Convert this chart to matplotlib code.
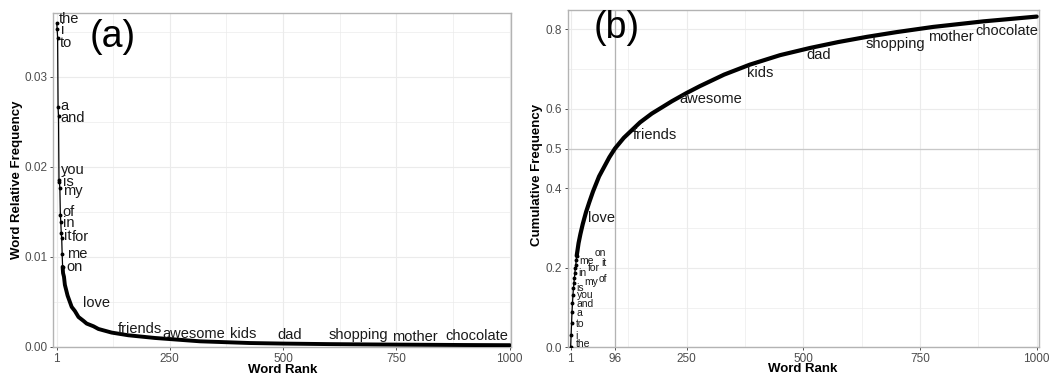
import matplotlib
matplotlib.use("Agg")
import matplotlib.pyplot as plt
from matplotlib.ticker import FixedLocator

plt.rcParams['font.family'] = ['Liberation Sans', 'DejaVu Sans']

# --- data ---
top_words = ["the", "i", "to", "a", "and", "you", "is", "my", "of", "in", "it", "for", "me", "on"]
top_ranks = list(range(1, 15))

# (a) relative frequency
top_freq = [0.0360, 0.0353, 0.0343, 0.0266, 0.0256, 0.0185, 0.0183, 0.0176,
            0.0147, 0.0139, 0.0126, 0.0121, 0.0103, 0.0089]
tail_ranks_a = [15, 17, 19, 25, 34, 41, 49, 60, 67, 82, 93, 122, 159, 218,
                317, 427, 500, 600, 700, 800, 900, 1000]
tail_freq = [0.0082, 0.0078, 0.0069, 0.0057, 0.00445, 0.0040, 0.00333, 0.0029,
             0.0026, 0.0023, 0.0020, 0.0016, 0.0013, 0.0010, 0.00063, 0.00044,
             0.00038, 0.00032, 0.00028, 0.00025, 0.00022, 0.0002]

# (b) cumulative frequency
top_cum = [0.0, 0.031, 0.060, 0.090, 0.111, 0.132, 0.148, 0.161,
           0.174, 0.186, 0.199, 0.207, 0.220, 0.230]
tail_ranks_b = [18, 22, 27, 34, 41, 49, 62, 84, 96, 115, 132, 150, 175, 200, 218,
                250, 278, 330, 385, 450, 514, 575, 636, 700, 778, 886, 1000]
tail_cum = [0.262, 0.285, 0.310, 0.340, 0.365, 0.392, 0.430, 0.478, 0.500, 0.527,
            0.546, 0.566, 0.588, 0.606, 0.619, 0.640, 0.657, 0.686, 0.711, 0.735,
            0.753, 0.768, 0.781, 0.793, 0.806, 0.820, 0.832]

label_words = top_words + ["love", "friends", "awesome", "kids", "dad",
                           "shopping", "mother", "chocolate"]
# text anchor positions (left edge, vertical centre) in data units
label_x_a = [4.5, 9.8, 6.7, 8.3, 9.8, 10.5, 15.6, 14.2, 14.2, 14.2, 17.8, 34, 23, 23,
             59.7, 135.5, 233.9, 383, 487, 601, 740, 859]
label_y_a = [0.03641, 0.03519, 0.03371, 0.02674, 0.02544, 0.01963, 0.01833, 0.01733,
             0.0150, 0.01378, 0.0123, 0.01216, 0.0103, 0.00889,
             0.00489, 0.00204, 0.00141, 0.00141, 0.0013, 0.00138, 0.00111, 0.00119]
label_x_b = [11.7, 10.2, 11.7, 13.9, 13.9, 13.9, 12.4, 29.5, 61.7, 17.3, 67.5, 37.4, 18.8, 51.6,
             38.7, 135.2, 233.2, 378.3, 505.4, 634, 766.3, 867.7]
label_y_b = [0.0075, 0.0284, 0.0579, 0.0855, 0.1089, 0.1316, 0.1484, 0.165,
             0.1726, 0.1877, 0.2113, 0.1987, 0.2179, 0.238,
             0.3245, 0.534, 0.6247, 0.6908, 0.7353, 0.7623, 0.7814, 0.7965]

GRID = '#ebebeb'
BORDER = '#b3b3b3'
TICKCOL = '#4d4d4d'

fig = plt.figure(figsize=(10.62, 3.77), dpi=100)
ax_a = fig.add_axes([0.0502, 0.0796, 0.4310, 0.8867])
ax_b = fig.add_axes([0.5345, 0.0788, 0.4438, 0.8947])


def style(ax, xmajor, xminor, ymajor, yminor):
    ax.xaxis.set_major_locator(FixedLocator(xmajor))
    ax.xaxis.set_minor_locator(FixedLocator(xminor))
    ax.yaxis.set_major_locator(FixedLocator(ymajor))
    ax.yaxis.set_minor_locator(FixedLocator(yminor))
    ax.grid(True, which='major', color=GRID, lw=0.8, zorder=0)
    ax.grid(True, which='minor', color=GRID, lw=0.5, zorder=0)
    ax.set_axisbelow(True)
    for s in ax.spines.values():
        s.set_color(BORDER)
        s.set_linewidth(1.0)
    ax.tick_params(which='major', length=2.5, width=0.6, color='#333333',
                   labelsize=8.5, labelcolor=TICKCOL, pad=1.5)
    ax.tick_params(which='minor', length=0)


# ---------- (a) ----------
ax = ax_a
ax.plot(top_ranks + tail_ranks_a, top_freq + tail_freq, color='black', lw=0.9, zorder=3)
ax.plot(top_ranks, top_freq, 'o', color='black', ms=1.8, zorder=4)
# dense part of the curve starts right after the last labelled word
ax.plot(top_ranks[-1:] + tail_ranks_a, top_freq[-1:] + tail_freq, color='black', lw=2.8,
        solid_capstyle='round', solid_joinstyle='round', zorder=3)
for w, x, y in zip(label_words, label_x_a, label_y_a):
    ax.text(x, y, w, ha='left', va='center', fontsize=10.5, color='#1a1a1a', zorder=5)
ax.set_xlim(-6.5, 1002.8)
ax.set_ylim(0, 0.03711)
style(ax, [1, 250, 500, 750, 1000], [125.5, 375, 625, 875],
      [0, 0.01, 0.02, 0.03], [0.005, 0.015, 0.025, 0.035])
ax.set_yticklabels(["0.00", "0.01", "0.02", "0.03"])
ax.set_xlabel("Word Rank", fontsize=9.5, fontweight='bold')
ax.set_ylabel("Word Relative Frequency", fontsize=9.5, fontweight='bold')
ax.xaxis.set_label_coords(0.501, -0.069)
ax.xaxis.label.set_va('center')
ax.yaxis.set_label_coords(-0.080, 0.5)
ax.yaxis.label.set_va('center')
ax.text(0.0787, 0.928, "(a)", transform=ax.transAxes, fontsize=27,
        ha='left', va='center', color='black')

# ---------- (b) ----------
ax = ax_b
ax.axvline(96, color='#b3b3b3', lw=0.9, zorder=1)
ax.axhline(0.5, color='#c8c8c8', lw=0.9, zorder=1)
ax.plot(top_ranks + tail_ranks_b, top_cum + tail_cum, color='black', lw=0.9, zorder=3)
ax.plot(top_ranks, top_cum, 'o', color='black', ms=1.8, zorder=4)
ax.plot(top_ranks[-1:] + tail_ranks_b, top_cum[-1:] + tail_cum, color='black', lw=3.0,
        solid_capstyle='round', solid_joinstyle='round', zorder=3)
for i, (w, x, y) in enumerate(zip(label_words, label_x_b, label_y_b)):
    fs = 7.5 if i < len(top_words) else 10.5
    ax.text(x, y, w, ha='left', va='center', fontsize=fs, color='#1a1a1a', zorder=5)
ax.set_xlim(-5.4, 1004.9)
ax.set_ylim(0, 0.8486)
style(ax, [1, 96, 250, 500, 750, 1000], [125, 375, 625, 875],
      [0, 0.2, 0.4, 0.5, 0.6, 0.8], [0.1, 0.3, 0.7])
ax.set_yticklabels(["0.0", "0.2", "0.4", "0.5", "0.6", "0.8"])
ax.set_xlabel("Word Rank", fontsize=9.5, fontweight='bold')
ax.set_ylabel("Cumulative Frequency", fontsize=9.5, fontweight='bold')
ax.xaxis.set_label_coords(0.4986, -0.065)
ax.xaxis.label.set_va('center')
ax.yaxis.set_label_coords(-0.065, 0.51)
ax.yaxis.label.set_va('center')
ax.text(0.0543, 0.9457, "(b)", transform=ax.transAxes, fontsize=27,
        ha='left', va='center', color='black')

fig.savefig("out.png", dpi=100)
